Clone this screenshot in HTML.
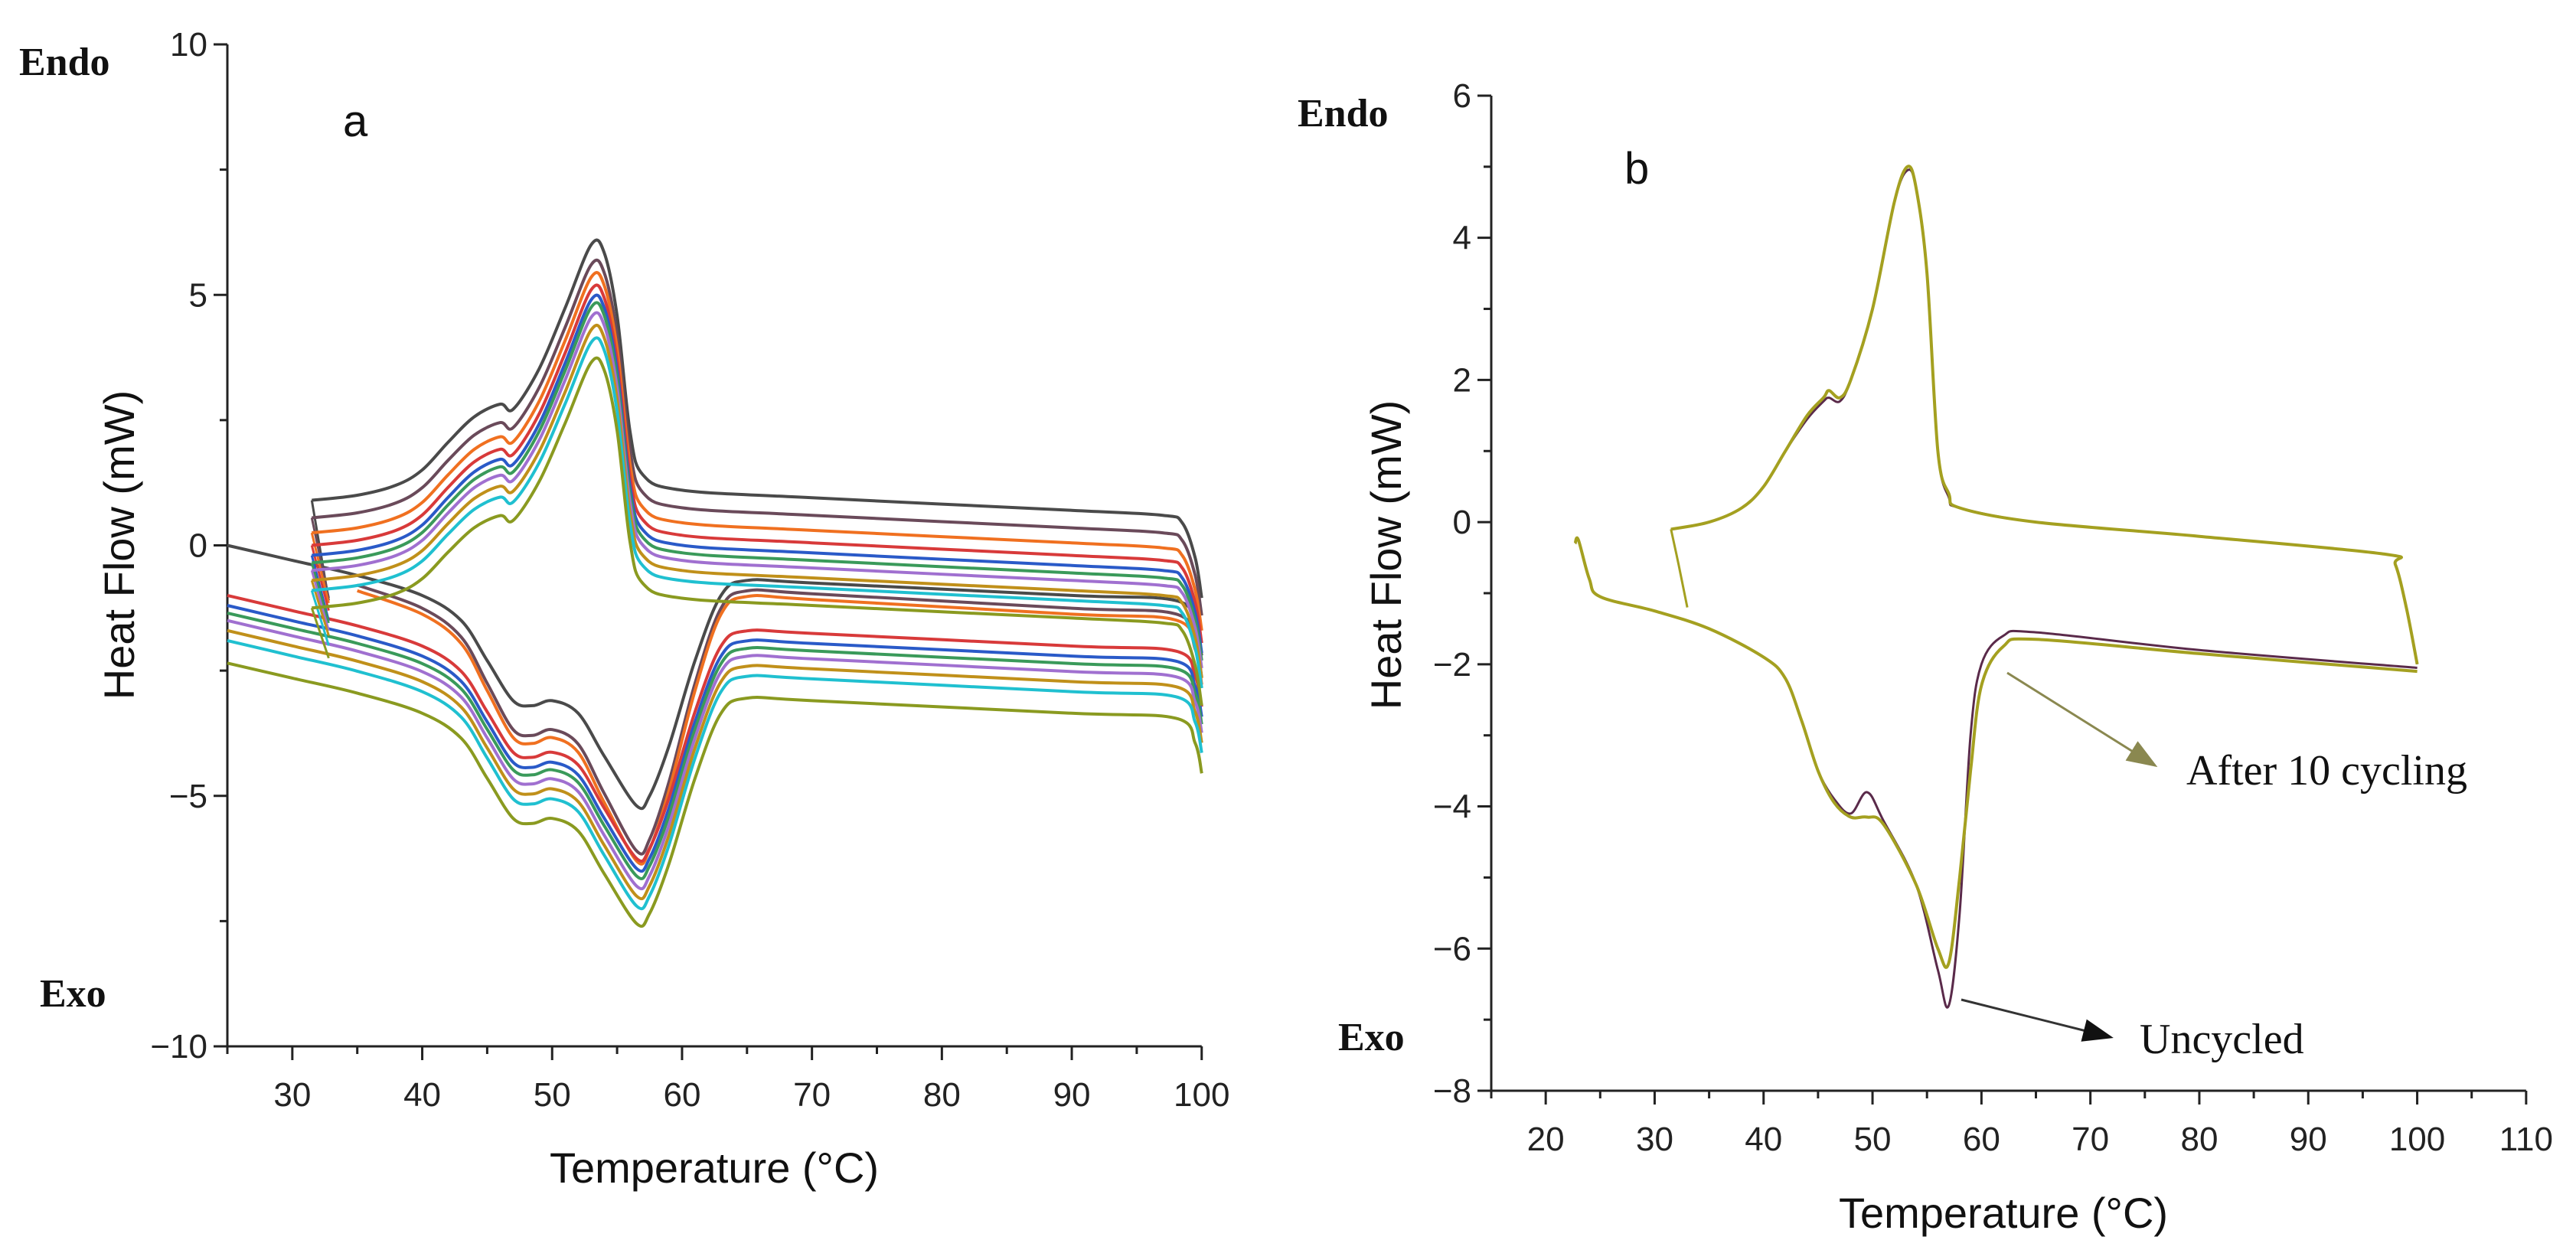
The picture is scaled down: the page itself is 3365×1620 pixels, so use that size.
<!DOCTYPE html>
<html><head><meta charset="utf-8"><style>
html,body{margin:0;padding:0;background:#fff}
svg{display:block}
text{font-family:"Liberation Sans",sans-serif}
.serif{font-family:"Liberation Serif",serif}
</style></head><body>
<svg id="fig" width="3365" height="1620" viewBox="0 0 3365 1620" xmlns="http://www.w3.org/2000/svg">
<defs>
<marker id="ahO" markerWidth="40" markerHeight="30" refX="36" refY="15" orient="auto" markerUnits="userSpaceOnUse"><path d="M0,0 L40,15 L0,30z" fill="#8a8850"/></marker>
<marker id="ahK" markerWidth="40" markerHeight="30" refX="36" refY="15" orient="auto" markerUnits="userSpaceOnUse"><path d="M0,0 L40,15 L0,30z" fill="#111"/></marker></defs>
<g id="pa"></g>
<g id="pb"></g>
</svg>
<script>
// ---- Panel a data ----
const aColors = ["#4a4a4a","#6a4a5a","#f07020","#d83a3a","#2a5ac8","#3a9a5a","#a070d0","#c0901a","#20c0d0","#8a9a20"];
const aHeatOffset = [0.95,0.6,0.3,0.05,-0.15,-0.3,-0.45,-0.65,-0.85,-1.2];
const aHeatPeak = [6.0,5.6,5.35,5.1,4.9,4.75,4.55,4.3,4.05,3.65];
const aHeatDrop = [-2.0,-1.6,-1.4,-1.3,-1.3,-1.2,-1.2,-1.1,-1.1,-1.0];
const heatT = [31.5,35,38,40,42,44,46,47,49,51,53,54,55,56,57,60,70,90,97,98.5,99.5,100];
const heatRel = [-0.05,0.05,0.25,0.55,1.1,1.6,1.85,1.75,2.55,3.75,5.0,4.85,3.6,1.3,0.45,0.15,0,-0.25,-0.35,-0.5,-1.2,-2.0];
const aCoolColors = ["#4a4a4a","#6a4a5a","#f07020","#d83a3a","#2a5ac8","#3a9a5a","#a070d0","#c0901a","#20c0d0","#8a9a20"];
const aCoolOffset = [0,-0.1,-0.2,-1.0,-1.2,-1.35,-1.5,-1.7,-1.9,-2.35];
const aCoolMin = [-5.2,-6.1,-6.3,-6.25,-6.45,-6.6,-6.8,-7.0,-7.2,-7.55];
const aCoolStart = [25,33,33,25,25,25,25,25,25,25];
const coolT = [25,30,35,40,43,45,47,48.5,50,52,54,56.5,57.5,59,61,63,65,70,90,98,99.5,100];
const coolRel = [0,-0.3,-0.6,-1.0,-1.5,-2.3,-3.1,-3.2,-3.1,-3.35,-4.2,-5.2,-5.0,-4.0,-2.3,-1.0,-0.7,-0.75,-1.0,-1.1,-1.6,-2.2];
const aXTicks = [30,40,50,60,70,80,90,100];
const aYTicks = [-10,-5,0,5,10];
// ---- Panel b data ----
const bHeatT = [31.5,35,38,40,42,44,45.5,46,47,48,50,52,53.2,54,55,56,57,58,65,80,97,98,99,100];
const bHeatCyc = [-0.1,0,0.2,0.5,1.0,1.5,1.75,1.85,1.75,2.0,3.0,4.5,5.0,4.7,3.5,1.0,0.4,0.2,0.0,-0.2,-0.45,-0.6,-1.2,-2.0];
const bHeatUnc = [-0.1,0,0.2,0.5,1.0,1.45,1.7,1.75,1.7,2.0,3.0,4.5,4.95,4.7,3.5,1.0,0.35,0.2,0.0,-0.2,-0.45,-0.6,-1.2,-2.0];
const bStartDropT = [31.5,32.2,33];
const bStartDropV = [-0.1,-0.6,-1.2];
const bCoolT = [22.7,23,24,25,30,35,40,42,43.5,45,46.5,48,49.5,51,54,56,57,58,59,60,62,65,80,100];
const bCoolCyc = [-0.3,-0.25,-0.8,-1.05,-1.25,-1.5,-1.9,-2.2,-2.8,-3.5,-3.95,-4.15,-4.15,-4.25,-5.1,-6.0,-6.2,-5.0,-3.5,-2.3,-1.75,-1.65,-1.85,-2.1];
const bCoolUnc = [-0.3,-0.25,-0.8,-1.05,-1.25,-1.5,-1.9,-2.2,-2.8,-3.5,-3.9,-4.1,-3.8,-4.2,-5.1,-6.3,-6.8,-5.5,-3.0,-2.0,-1.6,-1.55,-1.8,-2.05];
const bXTicks = [20,30,40,50,60,70,80,90,100,110];
const bYTicks = [-8,-6,-4,-2,0,2,4,6];

const NS="http://www.w3.org/2000/svg";
function mk(p,tag,attrs){const e=document.createElementNS(NS,tag);for(const k in attrs)e.setAttribute(k,attrs[k]);p.appendChild(e);return e;}
function smooth(pts){let d="M"+pts[0][0].toFixed(1)+","+pts[0][1].toFixed(1);
 for(let i=0;i<pts.length-1;i++){const p0=pts[Math.max(0,i-1)],p1=pts[i],p2=pts[i+1],p3=pts[Math.min(pts.length-1,i+2)];
  const c1=[p1[0]+(p2[0]-p0[0])/6,p1[1]+(p2[1]-p0[1])/6],c2=[p2[0]-(p3[0]-p1[0])/6,p2[1]-(p3[1]-p1[1])/6];
  d+=" C"+c1[0].toFixed(1)+","+c1[1].toFixed(1)+" "+c2[0].toFixed(1)+","+c2[1].toFixed(1)+" "+p2[0].toFixed(1)+","+p2[1].toFixed(1);}
 return d;}
function axes(g,o){
 const X=v=>o.x0+(v-o.xmin)*o.px, Y=v=>o.y0-(v-o.ymin)*o.py;
 const ax=mk(g,"path",{d:`M${X(o.xmin)},${Y(o.ymax)} L${X(o.xmin)},${Y(o.ymin)} L${X(o.xmax)},${Y(o.ymin)}`,stroke:"#222","stroke-width":3,fill:"none"});
 
 
 for(let v=o.xmin;v<=o.xmax+1e-6;v+=o.xminor){const big=o.xt.some(t=>Math.abs(t-v)<1e-6);
  mk(g,"line",{x1:X(v),x2:X(v),y1:Y(o.ymin),y2:Y(o.ymin)+(big?18:10),stroke:"#222","stroke-width":3});}
 o.xt.forEach(t=>{const e=mk(g,"text",{x:X(t),y:Y(o.ymin)+78,"text-anchor":"middle","font-size":44,fill:"#222"});e.textContent=t;
  
  });
 for(let v=o.ymin;v<=o.ymax+1e-6;v+=o.yminor){const big=o.yt.some(t=>Math.abs(t-v)<1e-6);
  mk(g,"line",{x1:X(o.xmin),x2:X(o.xmin)-(big?18:10),y1:Y(v),y2:Y(v),stroke:"#222","stroke-width":3});}
 o.yt.forEach(t=>{const e=mk(g,"text",{x:X(o.xmin)-26,y:Y(t)+15,"text-anchor":"end","font-size":44,fill:"#222"});e.textContent=t<0?"\u2212"+(-t):t;
  
  });
 return {X,Y};}
function line(g,X,Y,ts,vs,color,w,name){const pts=ts.map((t,i)=>[X(t),Y(vs[i])]);
 const e=mk(g,"path",{d:smooth(pts),stroke:color,"stroke-width":w,fill:"none","stroke-linejoin":"round"});
 
 }
function label(g,txt,x,y,size,cls,name,extra){const e=mk(g,"text",Object.assign({x,y,"font-size":size,fill:"#111"},extra||{}));if(cls)e.setAttribute("class",cls);e.textContent=txt;
 
 return e;}

// Panel a
const ga=document.getElementById("pa");
const A=axes(ga,{x0:297,y0:1367,xmin:25,xmax:100,px:16.97,ymin:-10,ymax:10,py:65.45,xt:aXTicks,yt:aYTicks,xminor:5,yminor:2.5});
aCoolOffset.forEach((off,i)=>{const k=(aCoolMin[i]-off)/-5.2;const ts=[],vs=[];
 coolT.forEach((t,j)=>{if(t>=aCoolStart[i]){ts.push(t);vs.push(off+coolRel[j]*k);}});
 line(ga,A.X,A.Y,ts,vs,aCoolColors[i],4,"cooling-curve-"+(i+1));});
aHeatOffset.forEach((off,i)=>{const k=(aHeatPeak[i]-off)/5.0;
 line(ga,A.X,A.Y,heatT,heatRel.map(r=>off+(r>0?r*k:r)),aColors[i],4,"heating-curve-"+(i+1));
 const s=off+heatRel[0];
 line(ga,A.X,A.Y,[31.5,32.8],[s,s+aHeatDrop[i]],aColors[i],3,"heating-start-drop-"+(i+1));});
label(ga,"Heat Flow (mW)",0,0,56,null,"y-axis-title",{transform:"translate(175,712) rotate(-90)","text-anchor":"middle"});
label(ga,"Temperature (\u00b0C)",933,1545,56,null,"x-axis-title",{"text-anchor":"middle"});
label(ga,"Endo",25,98,52,"serif","endo-label",{"font-weight":"bold"});
label(ga,"Exo",52,1315,52,"serif","exo-label",{"font-weight":"bold"});
label(ga,"a",448,178,58,null,"panel-a-label");

// Panel b
const gb=document.getElementById("pb");
const B=axes(gb,{x0:1948,y0:1425,xmin:15,xmax:110,px:14.23,ymin:-8,ymax:6,py:92.86,xt:bXTicks,yt:bYTicks,xminor:5,yminor:1});
line(gb,B.X,B.Y,bCoolT,bCoolUnc,"#5a2a4a",3,"uncycled-cooling");
line(gb,B.X,B.Y,bHeatT,bHeatUnc,"#5a2a4a",3,"uncycled-heating");
line(gb,B.X,B.Y,bCoolT,bCoolCyc,"#a4a020",4,"cycled-cooling");
line(gb,B.X,B.Y,bHeatT,bHeatCyc,"#a4a020",4,"cycled-heating");
line(gb,B.X,B.Y,bStartDropT,bStartDropV,"#a4a020",3,"cycled-start-drop");
label(gb,"Heat Flow (mW)",0,0,56,null,"y-axis-title-b",{transform:"translate(1830,725) rotate(-90)","text-anchor":"middle"});
label(gb,"Temperature (\u00b0C)",2617,1604,56,null,"x-axis-title-b",{"text-anchor":"middle"});
label(gb,"Endo",1695,165,52,"serif","endo-label-b",{"font-weight":"bold"});
label(gb,"Exo",1748,1372,52,"serif","exo-label-b",{"font-weight":"bold"});
label(gb,"b",2122,240,58,null,"panel-b-label");
const a1=mk(gb,"line",{x1:2622,y1:879,x2:2815,y2:1000,stroke:"#8a8850","stroke-width":3,"marker-end":"url(#ahO)"});


label(gb,"After 10 cycling",2856,1025,56,"serif","cycled-annotation");
const a2=mk(gb,"line",{x1:2562,y1:1306,x2:2757,y2:1355,stroke:"#333","stroke-width":3,"marker-end":"url(#ahK)"});


label(gb,"Uncycled",2795,1376,56,"serif","uncycled-annotation");
</script>
</body></html>
